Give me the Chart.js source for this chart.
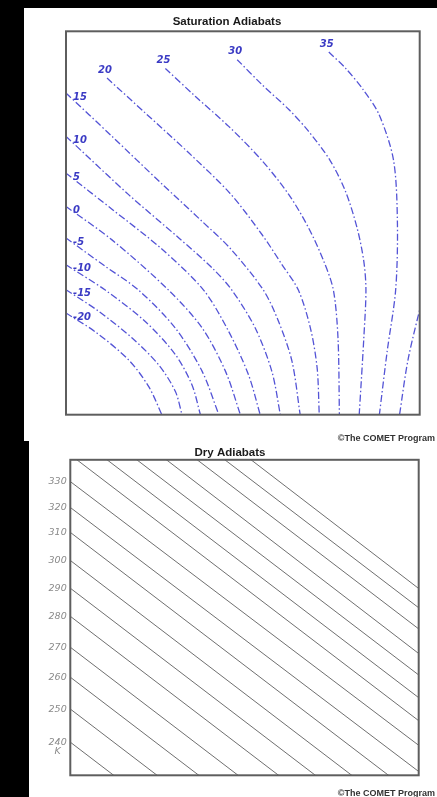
<!DOCTYPE html>
<html>
<head>
<meta charset="utf-8">
<script src="https://cdn.jsdelivr.net/npm/chart.js@4.4.1/dist/chart.umd.min.js"></script>
<style>
  html, body { margin: 0; padding: 0; background: #000; width: 437px; height: 797px; overflow: hidden; }
  .panel { position: absolute; background: #fff; }
  #satPanel { left: 24px; top: 8px; width: 413px; height: 433px; }
  #dryPanel { left: 29px; top: 441px; width: 408px; height: 356px; }
  canvas { position: absolute; }
  #sat { left: 24px; top: 8px; }
  #dry { left: 29px; top: 440px; }
  .credit { position: absolute; right: 2px; font: bold 9px "Liberation Sans", Arial, sans-serif; color: #333; white-space: nowrap; line-height: 10px; }
</style>
</head>
<body>
<div class="panel" id="satPanel"></div>
<div class="panel" id="dryPanel"></div>
<canvas id="sat" width="413" height="430"></canvas>
<canvas id="dry" width="408" height="357"></canvas>
<div class="credit" style="top:433px">©The COMET Program</div>
<div class="credit" style="top:788px">©The COMET Program</div>

<script>
// ---- Saturation (pseudo) adiabats: wet-bulb potential temperature in °C ----
// Each curve is a list of [x, y] points in diagram units (0–100 across, 0–100 up),
// ordered from the upper end of the curve down to the bottom of the diagram.
const satTemps = [-20, -15, -10, -5, 0, 5, 10, 15, 20, 25, 30, 35, 40];

const satM20 = [[0, 26.5], [8.3, 21.6], [17.7, 14.3], [23.4, 7.3], [27.1, 0]];
const satM15 = [[0, 32.6], [9.2, 27.0], [18.7, 20.0], [26.2, 13.0], [30.9, 6.1], [32.8, 0]];
const satM10 = [[0, 39.1], [11.1, 32.5], [22.4, 24.3], [30.9, 15.7], [35.6, 7.8], [38.0, 0]];
const satM5  = [[0, 46.1], [11.1, 38.7], [20.5, 32.5], [30.9, 22.6], [38.5, 11.3], [43.2, 0]];
const sat0   = [[0, 54.3], [13.0, 45.6], [29.0, 32.5], [38.5, 22.6], [45.1, 11.3], [49.3, 0]];
const sat5   = [[0, 63.0], [13.0, 53.6], [27.1, 43.2], [38.9, 32.5], [46.0, 21.7], [51.6, 10.4], [54.9, 0]];
const sat10  = [[0, 72.6], [17.7, 57.4], [31.9, 46.1], [41.3, 38.3], [46.9, 32.5], [53.5, 22.6], [58.2, 11.3], [60.6, 0]];
const sat15  = [[0, 83.9], [13.0, 72.6], [27.1, 60.2], [38.5, 50.4], [46.4, 43.4], [55.8, 32.5], [60.1, 24.3], [63.9, 13.9], [66.2, 0]];
const sat20  = [[11.6, 87.8], [22.4, 78.7], [34.7, 68.3], [46.4, 57.7], [55.4, 47.0], [61.1, 39.1], [65.7, 32.5], [69.1, 22.6], [71.0, 12.2], [71.6, 0]];
const sat25  = [[28.1, 90.3], [36.6, 83.0], [46.0, 75.2], [55.3, 66.4], [63.0, 57.4], [68.6, 48.7], [72.9, 40.0], [75.6, 32.5], [76.9, 20.0], [77.3, 0]];
const sat30  = [[48.4, 92.6], [55.4, 86.1], [63.0, 79.6], [68.6, 73.9], [74.6, 66.4], [79.0, 58.3], [82.3, 48.7], [84.2, 40.0], [84.8, 32.5], [84.2, 20.0], [82.9, 0]];
const sat35  = [[74.3, 94.6], [79.0, 90.4], [84.0, 84.8], [88.5, 78.3], [92.6, 66.4], [93.7, 50.0], [93.2, 32.5], [90.8, 16.5], [88.6, 0]];
const sat40  = [[101.5, 33.0], [96.8, 14.8], [94.3, 0]];

const satCurves = [satM20, satM15, satM10, satM5, sat0, sat5, sat10, sat15, sat20, sat25, sat30, sat35, sat40];

// ---- Dry adiabats: potential temperature in K ----
// Each straight line is given by its height at the left edge (x = 0) and at the right edge (x = 100).
const dryThetas = [240, 250, 260, 270, 280, 290, 300, 310, 320, 330, 340, 350, 360, 370, 380, 390, 400];
const dryLeft   = [10.5, 21.0, 31.1, 40.6, 50.4, 59.3, 68.1, 77.0, 84.9, 93.1, 101.6, 108.9, 116.1, 123.4, 130.7, 137.4, 144.0];
const dryRight  = [-73.8, -63.3, -53.2, -43.7, -33.9, -25.0, -16.2, -7.3, 1.2, 9.5, 17.3, 24.6, 31.8, 38.6, 46.4, 53.1, 59.2];
const dryTickLabels = [240, 250, 260, 270, 280, 290, 300, 310, 320, 330];

// ---- shared plugins ----
const framePlugin = {
  id: 'frame',
  afterDraw(chart, args, opts) {
    const { ctx, chartArea: a } = chart;
    ctx.save();
    ctx.strokeStyle = opts.color || '#555';
    ctx.lineWidth = opts.width || 2;
    ctx.strokeRect(a.left, a.top, a.right - a.left, a.bottom - a.top);
    ctx.restore();
  }
};

// Curve labels: at the left edge they sit to the right of the curve start,
// inside the diagram they sit just above the start of the curve.
const satLabelPlugin = {
  id: 'satLabels',
  afterDatasetsDraw(chart) {
    const { ctx, scales: { x, y } } = chart;
    ctx.save();
    ctx.font = 'italic bold 10px "DejaVu Sans", Verdana, sans-serif';
    ctx.fillStyle = '#3a3ac4';
    ctx.textBaseline = 'middle';
    chart.data.datasets.forEach(ds => {
      const p = ds.data[0];
      if (p.x > x.max || p.y > y.max) return;
      const px = x.getPixelForValue(p.x);
      const py = y.getPixelForValue(p.y);
      if (p.x <= x.min) {
        ctx.textAlign = 'left';
        ctx.fillText(ds.label, px + 7, py + 4);
      } else {
        ctx.textAlign = 'center';
        ctx.fillText(ds.label, px - 2, py - 8);
      }
    });
    ctx.restore();
  }
};

// Unit marker under the lowest potential-temperature label
const unitPlugin = {
  id: 'unitLabel',
  afterDraw(chart, args, opts) {
    const { ctx } = chart;
    const ys = chart.scales.y;
    ctx.save();
    ctx.font = 'italic 9.5px "DejaVu Sans", Verdana, sans-serif';
    const first = String(dryTickLabels[0]);
    const w = ctx.measureText(first).width;
    const right = chart.chartArea.left - opts.gap;
    const cx = right - w / 2;
    const py = ys.getPixelForValue(dryLeft[dryThetas.indexOf(dryTickLabels[0])]);
    ctx.fillStyle = opts.color;
    ctx.textAlign = 'center';
    ctx.textBaseline = 'middle';
    ctx.fillText(opts.text, cx, py + 9.5);
    ctx.restore();
  }
};

const titleFont = { family: '"Liberation Sans", Arial, sans-serif', size: 11.5, weight: 'bold', lineHeight: 1.2 };

// ---- Saturation adiabats chart ----
new Chart(document.getElementById('sat'), {
  type: 'scatter',
  data: {
    datasets: satCurves.map((pts, i) => ({
      label: String(satTemps[i]),
      data: pts.map(p => ({ x: p[0], y: p[1] })),
      showLine: true,
      borderColor: 'rgb(84, 84, 214)',
      borderWidth: 1.3,
      borderDash: [7, 2.5, 1.5, 2.5],
      pointRadius: 0,
      pointHoverRadius: 0,
      tension: 0.3,
      fill: false
    }))
  },
  options: {
    responsive: false,
    animation: false,
    events: [],
    layout: { padding: { left: 10.3, right: 17.3, top: 0, bottom: 23.3 } },
    plugins: {
      legend: { display: false },
      tooltip: { enabled: false },
      title: {
        display: true,
        text: 'Saturation Adiabats',
        color: '#1a1a1a',
        font: titleFont,
        padding: { top: 7, bottom: 2.5 }
      },
      frame: { color: '#5e5e5e', width: 2 }
    },
    scales: {
      x: { type: 'linear', min: 0, max: 100, display: false },
      y: {
        type: 'linear', min: 0, max: 100,
        grid: { display: false, drawTicks: false },
        border: { display: false },
        ticks: { display: false },
        afterFit: s => { s.width = 31.7; }
      }
    }
  },
  plugins: [satLabelPlugin, framePlugin]
});

// ---- Dry adiabats chart ----
const dryTickValues = dryTickLabels.map(t => dryLeft[dryThetas.indexOf(t)]);

new Chart(document.getElementById('dry'), {
  type: 'scatter',
  data: {
    datasets: dryThetas.map((t, i) => ({
      label: String(t),
      data: [{ x: 0, y: dryLeft[i] }, { x: 100, y: dryRight[i] }],
      showLine: true,
      borderColor: '#4a4a4a',
      borderWidth: 0.8,
      pointRadius: 0,
      pointHoverRadius: 0,
      fill: false
    }))
  },
  options: {
    responsive: false,
    animation: false,
    events: [],
    layout: { padding: { left: 12.3, right: 18.3, top: 0, bottom: 21.7 } },
    plugins: {
      legend: { display: false },
      tooltip: { enabled: false },
      title: {
        display: true,
        text: 'Dry Adiabats',
        color: '#1a1a1a',
        font: titleFont,
        padding: { top: 6, bottom: 0 }
      },
      frame: { color: '#5e5e5e', width: 2 },
      unitLabel: { text: 'K', color: '#8a8a8a', gap: 3.6 }
    },
    scales: {
      x: { type: 'linear', min: 0, max: 100, display: false },
      y: {
        type: 'linear', min: 0, max: 100,
        grid: { display: false, drawTicks: false },
        border: { display: false },
        afterBuildTicks: s => { s.ticks = dryTickValues.map(v => ({ value: v })); },
        ticks: {
          autoSkip: false,
          padding: 3.6,
          color: '#8a8a8a',
          font: { family: '"DejaVu Sans", Verdana, sans-serif', style: 'italic', size: 9.5 },
          callback: (v, i) => String(dryTickLabels[i])
        },
        afterFit: s => { s.width = 29; }
      }
    }
  },
  plugins: [framePlugin, unitPlugin]
});
</script>
</body>
</html>
